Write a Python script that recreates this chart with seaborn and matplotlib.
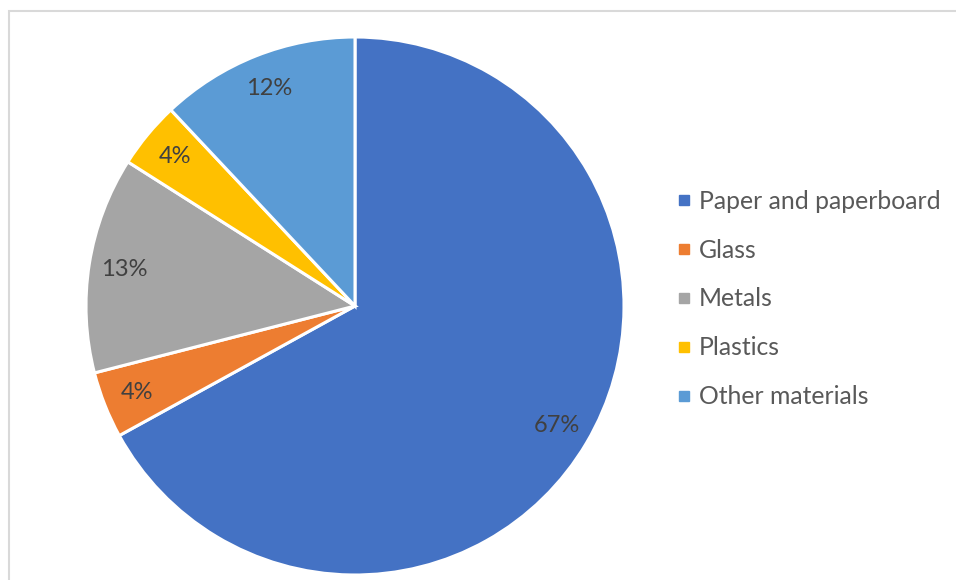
import matplotlib
matplotlib.use("Agg")
import matplotlib.pyplot as plt
import seaborn as sns
from matplotlib.lines import Line2D
from matplotlib.patches import Rectangle

categories = ["Paper and paperboard", "Glass", "Metals", "Plastics", "Other materials"]
values = [67, 4, 13, 4, 12]
colors = ["#4472C4", "#ED7D31", "#A5A5A5", "#FFC000", "#5B9BD5"]

sns.set_theme(style="white")
plt.rcParams["font.family"] = ["Lato", "DejaVu Sans"]

W, H = 956, 580
fig = plt.figure(figsize=(W / 100, H / 100), dpi=100)
fig.patch.set_facecolor("white")

# chart border
fig.add_artist(Rectangle((8.5 / W, -0.1), 1.2, (H - 10.5) / H + 0.1,
                         transform=fig.transFigure, fill=False,
                         edgecolor="#D9D9D9", linewidth=1.5))

cx, cy, r = 355, 306, 269
ax = fig.add_axes([(cx - r) / W, (H - cy - r) / H, 2 * r / W, 2 * r / H])
wedges, texts, autotexts = ax.pie(
    values, colors=colors, startangle=90, counterclock=False,
    autopct=lambda p: f"{p:.0f}%", pctdistance=0.87,
    wedgeprops=dict(edgecolor="white", linewidth=2.2),
    textprops=dict(color="#404040", fontsize=17), radius=1,
)
ax.set_xlim(-1, 1)
ax.set_ylim(-1, 1)
ax.set_aspect("equal")
ax.axis("off")

handles = [Line2D([0], [0], marker="s", linestyle="none", markersize=7.5,
                  markerfacecolor=c, markeredgecolor=c) for c in colors]
leg = fig.legend(handles, categories, loc="center left",
                 bbox_to_anchor=(667 / W, (H - 299) / H), frameon=False,
                 fontsize=17.8, labelcolor="#595959", handlelength=0.6,
                 handletextpad=0.3, labelspacing=1.05, borderaxespad=0)

fig.savefig("out.png", dpi=100, facecolor="white")
